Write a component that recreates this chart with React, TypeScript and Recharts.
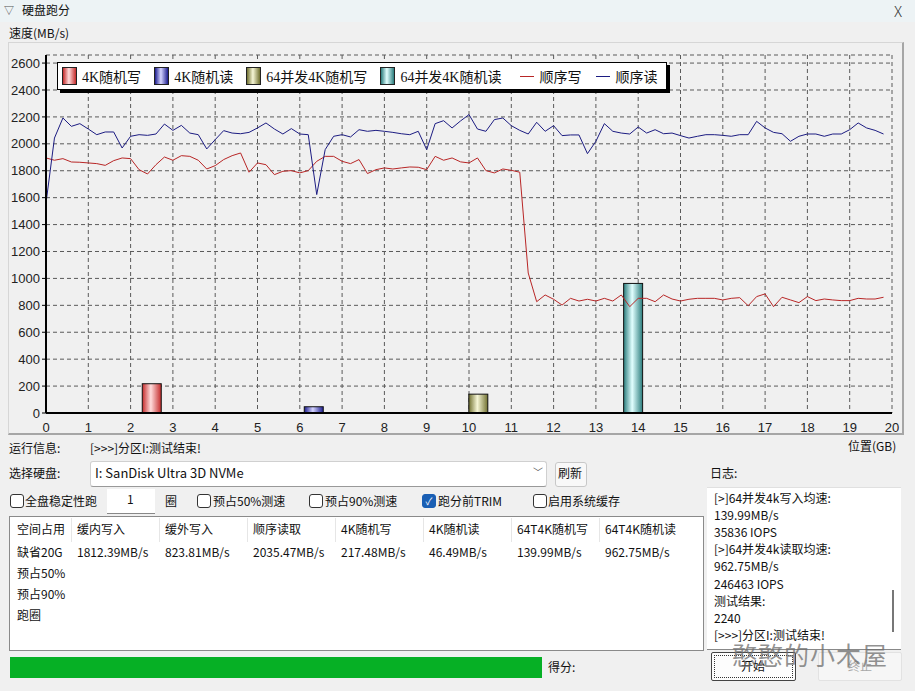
import { ComposedChart, Line, Bar, XAxis, YAxis, CartesianGrid, Legend } from 'recharts'

// sequential write / read speed (MB/s), one sample every 0.2 GB
const SEQ_WRITE = [
  1895, 1878, 1890, 1865, 1863, 1858, 1853, 1840, 1875, 1895,
  1890, 1808, 1776, 1845, 1902, 1878, 1912, 1907, 1878, 1813,
  1838, 1883, 1912, 1932, 1789, 1858, 1845, 1771, 1796, 1801,
  1784, 1801, 1870, 1907, 1907, 1870, 1853, 1883, 1779, 1808,
  1821, 1813, 1821, 1828, 1826, 1808, 1907, 1878, 1895, 1866,
  1858, 1895, 1801, 1784, 1813, 1803, 1789, 1040, 827, 877,
  845, 802, 852, 832, 845, 832, 852, 832, 877, 790,
  852, 852, 827, 877, 847, 832, 845, 852, 852, 852,
  840, 852, 857, 797, 865, 885, 790, 860, 840, 820,
  865, 835, 847, 840, 835, 835, 852, 847, 847, 860,
]
const SEQ_READ = [
  1560, 2043, 2192, 2130, 2150, 2110, 2068, 2088, 2088, 1969,
  2056, 2068, 2063, 2073, 2147, 2100, 2137, 2080, 2068, 1962,
  2031, 2098, 2080, 2075, 2085, 2118, 2155, 2110, 2073, 2113,
  2073, 2068, 1623, 1957, 2056, 2068, 2051, 2105, 2093, 2100,
  2093, 2085, 2075, 2068, 2093, 1957, 2150, 2172, 2118, 2170,
  2217, 2110, 2093, 2180, 2192, 2135, 2100, 2073, 2160, 2093,
  2135, 2061, 2066, 2066, 1927, 2019, 2150, 2093, 2080, 2073,
  2125, 2080, 2105, 2075, 2080, 2061, 2043, 2056, 2068, 2068,
  2063, 2056, 2068, 2068, 2167, 2118, 2085, 2075, 2019, 2056,
  2073, 2073, 2056, 2073, 2073, 2105, 2155, 2118, 2100, 2073,
]
const SAMPLE_STEP = 0.2

const BAR_NAMES = ['4K随机写', '4K随机读', '64并发4K随机写', '64并发4K随机读']
const BAR_POS = [2.5, 6.33, 10.22, 13.88]
const BAR_VALUES = [217.48, 46.49, 139.99, 962.75]
const LINE_NAMES = ['顺序写', '顺序读']

const Y_TICKS = [0, 200, 400, 600, 800, 1000, 1200, 1400, 1600, 1800, 2000, 2200, 2400, 2600]
const X_TICKS = [0, 1, 2, 3, 4, 5, 6, 7, 8, 9, 10, 11, 12, 13, 14, 15, 16, 17, 18, 19, 20]

const RESULT_HEADERS = ['空间占用', '缓内写入', '缓外写入', '顺序读取', '4K随机写', '4K随机读', '64T4K随机写', '64T4K随机读']
const RESULT_ROW = ['缺省20G', '1812.39MB/s', '823.81MB/s', '2035.47MB/s', '217.48MB/s', '46.49MB/s', '139.99MB/s', '962.75MB/s']
const RESULT_LABELS = ['预占50%', '预占90%', '跑圈']
const LOG_LINES = [
  '[>]64并发4k写入均速:',
  '139.99MB/s',
  '35836 IOPS',
  '[>]64并发4k读取均速:',
  '962.75MB/s',
  '246463 IOPS',
  '测试结果:',
  '2240',
  '[>>>]分区I:测试结束!',
]

const BAR_COLORS = [
  { edge: '#c42a2a', mid: '#ffdcdc' },
  { edge: '#1c1c8e', mid: '#d4d4ff' },
  { edge: '#707030', mid: '#f6f6d6' },
  { edge: '#2a7c7c', mid: '#e2ffff' },
]
const WRITE_COLOR = '#b82626'
const READ_COLOR = '#1c1c82'
const BAR_WIDTH = 19

const UI_FONT = '"Noto Sans CJK SC", "Noto Sans", sans-serif'
const TICK_FONT = '"Liberation Sans Narrow", "Liberation Sans", Arial, sans-serif'
const LEGEND_FONT = '"Liberation Serif", "Noto Sans CJK SC", serif'

const rows = [
  ...SEQ_WRITE.map((w, i) => ({ pos: i * SAMPLE_STEP, write: w, read: SEQ_READ[i] })),
  ...BAR_POS.map((p, i) => ({ pos: p, bar: BAR_VALUES[i], kind: i })),
].sort((a, b) => a.pos - b.pos)

function CylinderBar(props: any) {
  const { x, y, width, height, payload } = props
  if (!(height > 0) || payload == null || payload.kind == null) return null
  const cx = x + width / 2
  return (
    <rect
      x={cx - BAR_WIDTH / 2}
      y={y}
      width={BAR_WIDTH}
      height={height}
      fill={`url(#bar-grad-${payload.kind})`}
      stroke="#111"
      strokeWidth={1}
    />
  )
}

function ChartLegend() {
  return (
    <div
      style={{
        display: 'inline-flex',
        alignItems: 'center',
        height: 26,
        padding: '0 6px 0 4px',
        background: '#fff',
        border: '1px solid #000',
        boxShadow: '3px 3px 0 #000',
        fontFamily: LEGEND_FONT,
        fontSize: 14,
        color: '#111',
        whiteSpace: 'nowrap',
      }}
    >
      {BAR_NAMES.map((name, i) => (
        <span key={name} style={{ display: 'inline-flex', alignItems: 'center', marginRight: i === 3 ? 18 : 13 }}>
          <span
            style={{
              display: 'inline-block',
              width: 13,
              height: 16,
              marginRight: 5,
              border: '1px solid #222',
              background: `linear-gradient(90deg, ${BAR_COLORS[i].edge}, ${BAR_COLORS[i].mid} 45%, ${BAR_COLORS[i].edge})`,
            }}
          />
          {name}
        </span>
      ))}
      {LINE_NAMES.map((name, i) => (
        <span key={name} style={{ display: 'inline-flex', alignItems: 'center', marginRight: i === 0 ? 14 : 2 }}>
          <span
            style={{
              display: 'inline-block',
              width: 14,
              height: 0,
              marginRight: 6,
              borderTop: `1px solid ${i === 0 ? WRITE_COLOR : READ_COLOR}`,
            }}
          />
          {name}
        </span>
      ))}
    </div>
  )
}

function T({ x, y, children, style }: { x: number; y: number; children: any; style?: any }) {
  return (
    <div
      style={{
        position: 'absolute',
        left: x,
        top: y,
        fontSize: 12,
        lineHeight: '16px',
        whiteSpace: 'nowrap',
        ...style,
      }}
    >
      {children}
    </div>
  )
}

function Check({ x, checked }: { x: number; checked?: boolean }) {
  return (
    <div
      style={{
        position: 'absolute',
        left: x,
        top: 494,
        width: 12,
        height: 12,
        borderRadius: 3,
        border: checked ? '1px solid #1a5fb4' : '1px solid #333',
        background: checked ? '#1a5fb4' : '#fff',
        color: '#fff',
        fontSize: 10,
        lineHeight: '12px',
        textAlign: 'center',
      }}
    >
      {checked ? '✓' : ''}
    </div>
  )
}

export default function App() {
  const colX = [17, 77, 165, 253, 341, 429, 517, 605]
  const sepX = [71, 159, 247, 335, 423, 511, 599]
  return (
    <div
      style={{
        position: 'absolute',
        left: 0,
        top: 0,
        width: 915,
        height: 691,
        overflow: 'hidden',
        background: '#f0f0f0',
        fontFamily: UI_FONT,
        color: '#111',
      }}
    >
      {/* title bar */}
      <div style={{ position: 'absolute', left: 0, top: 0, width: 915, height: 22, background: '#edf3f5' }} />
      <T x={4} y={2} style={{ fontSize: 10, color: '#555' }}>▽</T>
      <T x={22} y={2}>硬盘跑分</T>
      <T x={894} y={3} style={{ fontSize: 15, lineHeight: '16px', fontWeight: 300, color: '#333' }}>X</T>
      <T x={9} y={25}>速度(MB/s)</T>

      {/* chart panel */}
      <div
        style={{
          position: 'absolute',
          left: 8,
          top: 42,
          width: 893,
          height: 390,
          borderTop: '1px solid #d6d6d6',
          borderLeft: '1px solid #d6d6d6',
          borderRight: '2px solid #a6a6a6',
          borderBottom: '2px solid #a6a6a6',
        }}
      />
      <div style={{ position: 'absolute', left: 0, top: 40 }}>
        <ComposedChart width={915} height={400} data={rows} margin={{ top: 15, right: 23, bottom: 7, left: 6 }}>
          <defs>
            {BAR_COLORS.map((c, i) => (
              <linearGradient key={i} id={`bar-grad-${i}`} x1="0" y1="0" x2="1" y2="0">
                <stop offset="0%" stopColor={c.edge} />
                <stop offset="45%" stopColor={c.mid} />
                <stop offset="100%" stopColor={c.edge} />
              </linearGradient>
            ))}
          </defs>
          <CartesianGrid stroke="#5a5a5a" strokeDasharray="4 3" />
          <XAxis
            dataKey="pos"
            type="number"
            domain={[0, 20]}
            ticks={X_TICKS}
            interval={0}
            allowDataOverflow
            height={20}
            tickLine={false}
            tickMargin={4}
            axisLine={{ stroke: '#000', strokeWidth: 2 }}
            tick={{ fontSize: 13, fill: '#222', fontFamily: TICK_FONT }}
          />
          <YAxis
            type="number"
            domain={[0, 2660]}
            ticks={Y_TICKS}
            interval={0}
            allowDataOverflow
            width={40}
            tickSize={4}
            tickMargin={2}
            tickLine={{ stroke: '#000' }}
            axisLine={{ stroke: '#000', strokeWidth: 2 }}
            tick={{ fontSize: 13, fill: '#222', fontFamily: TICK_FONT }}
          />
          <XAxis xAxisId="top" orientation="top" type="number" domain={[0, 20]} height={0} tick={false} tickLine={false} axisLine={{ stroke: '#000' }} />
          <YAxis yAxisId="right" orientation="right" type="number" domain={[0, 2660]} width={0} tick={false} tickLine={false} axisLine={{ stroke: '#000' }} />
          <Legend
            layout="horizontal"
            verticalAlign="middle"
            align="center"
            wrapperStyle={{ left: 57, top: 22, width: 'auto', height: 'auto' }}
            content={() => <ChartLegend />}
          />
          <Bar dataKey="bar" isAnimationActive={false} shape={CylinderBar} legendType="none" />
          <Line dataKey="write" type="linear" stroke={WRITE_COLOR} strokeWidth={1} dot={false} activeDot={false} connectNulls isAnimationActive={false} />
          <Line dataKey="read" type="linear" stroke={READ_COLOR} strokeWidth={1} dot={false} activeDot={false} connectNulls isAnimationActive={false} />
        </ComposedChart>
      </div>

      <T x={848} y={438}>位置(GB)</T>
      <T x={9} y={440}>运行信息:</T>
      <T x={90} y={440}>[&gt;&gt;&gt;]分区I:测试结束!</T>

      {/* disk selection */}
      <T x={9} y={465}>选择硬盘:</T>
      <div style={{ position: 'absolute', left: 90, top: 461, width: 455, height: 24, background: '#fff', border: '1px solid #d0d0d0', borderBottom: '1px solid #999', borderRadius: 3 }} />
      <T x={95} y={465} style={{ fontSize: 13 }}>I: SanDisk Ultra 3D NVMe</T>
      <T x={533} y={464} style={{ fontSize: 10, color: '#555' }}>﹀</T>
      <div style={{ position: 'absolute', left: 555, top: 462, width: 30, height: 23, background: '#f8f8f8', border: '1px solid #c8c8c8', borderRadius: 3 }} />
      <T x={558} y={465}>刷新</T>
      <T x={710} y={465}>日志:</T>

      {/* options row */}
      <Check x={10} />
      <T x={25} y={493}>全盘稳定性跑</T>
      <div style={{ position: 'absolute', left: 107, top: 489, width: 48, height: 24, background: '#fff', borderBottom: '1px solid #888' }} />
      <T x={127} y={491}>1</T>
      <T x={165} y={493}>圈</T>
      <Check x={197} />
      <T x={213} y={493}>预占50%测速</T>
      <Check x={309} />
      <T x={325} y={493}>预占90%测速</T>
      <Check x={422} checked />
      <T x={438} y={493}>跑分前TRIM</T>
      <Check x={533} />
      <T x={548} y={493}>启用系统缓存</T>

      {/* results table */}
      <div style={{ position: 'absolute', left: 9, top: 516, width: 693, height: 133, background: '#fff', border: '1px solid #8a8a8a' }} />
      {sepX.map((x) => (
        <div key={x} style={{ position: 'absolute', left: x, top: 518, width: 1, height: 24, background: '#e6e6e6' }} />
      ))}
      {RESULT_HEADERS.map((h, i) => (
        <T key={h} x={colX[i]} y={521}>{h}</T>
      ))}
      {RESULT_ROW.map((v, i) => (
        <T key={v + i} x={colX[i]} y={544}>{v}</T>
      ))}
      {RESULT_LABELS.map((v, i) => (
        <T key={v} x={17} y={565 + i * 21}>{v}</T>
      ))}

      {/* log */}
      <div style={{ position: 'absolute', left: 707, top: 487, width: 194, height: 161, background: '#fff', borderTop: '1px solid #e0e0e0', borderBottom: '1px solid #888' }} />
      {LOG_LINES.map((line, i) => (
        <T key={i} x={714} y={490 + i * 17.1}>{line}</T>
      ))}
      <div style={{ position: 'absolute', left: 892, top: 590, width: 2, height: 42, background: '#777' }} />

      {/* progress + buttons */}
      <div style={{ position: 'absolute', left: 10, top: 657, width: 532, height: 21, background: '#06b025' }} />
      <T x={548} y={659}>得分:</T>
      <div style={{ position: 'absolute', left: 711, top: 652, width: 83, height: 27, background: '#fdfdfd', border: '1px solid #444', borderRadius: 2 }}>
        <div style={{ position: 'absolute', inset: 2, border: '1px dotted #333' }} />
      </div>
      <T x={741} y={658}>开始</T>
      <div style={{ position: 'absolute', left: 818, top: 652, width: 82, height: 27, background: '#f6f6f6', border: '1px solid #e2e2e2', borderRadius: 2 }} />
      <T x={848} y={658} style={{ color: '#a8a8a8' }}>终止</T>
      <T x={732} y={638} style={{ fontSize: 25, lineHeight: '32px', color: 'rgba(110,110,110,0.75)', letterSpacing: 1 }}>憨憨的小木屋</T>
    </div>
  )
}
